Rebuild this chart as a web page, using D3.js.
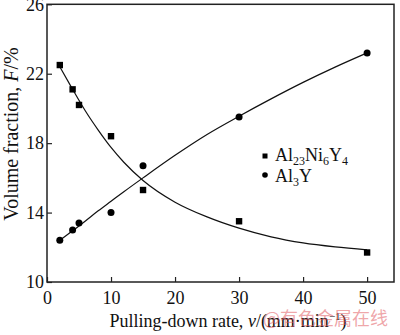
<!DOCTYPE html>
<html>
<head>
<meta charset="utf-8">
<script src="https://cdn.jsdelivr.net/npm/d3@7"></script>
<style>
  html, body { margin: 0; padding: 0; background: #fff; }
  svg { display: block; }
  text { font-family: "Liberation Serif", "Times New Roman", serif; fill: #111; }
</style>
</head>
<body>
<svg id="chart" width="400" height="335"></svg>
<script>
// Measured volume fractions vs pulling-down rate
const rates      = [2, 4, 5, 10, 15, 30, 50];
const al23Ni6Y4  = [22.5, 21.1, 20.2, 18.4, 15.3, 13.5, 11.7];
const al3Y       = [12.4, 13.0, 13.4, 14.0, 16.7, 19.5, 23.2];

// Fitted trend lines
const fitRates   = [2, 4, 6, 8, 10, 12, 15, 20, 25, 30, 35, 40, 45, 50];
const fitNi      = [22.4, 21.1, 19.85, 18.75, 17.75, 16.9, 15.85, 14.6, 13.75, 13.1, 12.6, 12.25, 12.02, 11.85];
const fitAl3Y    = [12.4, 12.95, 13.52, 14.1, 14.65, 15.2, 16.0, 17.3, 18.5, 19.55, 20.55, 21.5, 22.38, 23.2];

const xTicks = [0, 10, 20, 30, 40, 50];
const yTicks = [10, 14, 18, 22, 26];

const svg = d3.select("#chart");
const m = { left: 47, right: 394, top: 4.3, bottom: 282 };

const x = d3.scaleLinear().domain([0, 54.2]).range([m.left, m.right]);
const y = d3.scaleLinear().domain([10, 26]).range([m.bottom, m.top]);

// Axes with inward ticks
const gx = svg.append("g")
  .attr("transform", `translate(0,${m.bottom})`)
  .call(d3.axisBottom(x).tickValues(xTicks).tickSize(-5).tickPadding(9).tickFormat(d3.format("d")));
const gy = svg.append("g")
  .attr("transform", `translate(${m.left},0)`)
  .call(d3.axisLeft(y).tickValues(yTicks).tickSize(-5).tickPadding(3).tickFormat(d3.format("d")));

[gx, gy].forEach(g => {
  g.select(".domain").remove();
  g.selectAll(".tick line").attr("stroke", "#222").attr("stroke-width", 1.2);
  g.selectAll(".tick text").style("font-size", "18px").attr("fill", "#111")
    .style("font-family", '"Liberation Serif", "Times New Roman", serif');
});

// Plot frame
svg.append("rect")
  .attr("x", m.left).attr("y", m.top)
  .attr("width", m.right - m.left).attr("height", m.bottom - m.top)
  .attr("fill", "none").attr("stroke", "#222").attr("stroke-width", 1.5);

// Trend lines
const line = d3.line().x(d => x(d[0])).y(d => y(d[1])).curve(d3.curveMonotoneX);
[fitNi, fitAl3Y].forEach(vals => {
  svg.append("path")
    .datum(fitRates.map((r, i) => [r, vals[i]]))
    .attr("d", line)
    .attr("fill", "none").attr("stroke", "#111").attr("stroke-width", 1.2);
});

// Markers
const sq = 6.4;
svg.append("g").selectAll("rect")
  .data(rates.map((r, i) => [r, al23Ni6Y4[i]]))
  .join("rect")
  .attr("x", d => x(d[0]) - sq / 2).attr("y", d => y(d[1]) - sq / 2)
  .attr("width", sq).attr("height", sq).attr("fill", "#000");
svg.append("g").selectAll("circle")
  .data(rates.map((r, i) => [r, al3Y[i]]))
  .join("circle")
  .attr("cx", d => x(d[0])).attr("cy", d => y(d[1]))
  .attr("r", 3.5).attr("fill", "#000");

// Legend
const lg = svg.append("g");
lg.append("rect").attr("x", 262.5).attr("y", 153.5).attr("width", 5).attr("height", 5).attr("fill", "#000");
lg.append("circle").attr("cx", 265).attr("cy", 175).attr("r", 2.8).attr("fill", "#000");
const t1 = lg.append("text").attr("x", 275).attr("y", 161).style("font-size", "18px");
t1.append("tspan").text("Al");
t1.append("tspan").text("23").attr("dy", 4).style("font-size", "12px");
t1.append("tspan").text("Ni").attr("dy", -4);
t1.append("tspan").text("6").attr("dy", 4).style("font-size", "12px");
t1.append("tspan").text("Y").attr("dy", -4);
t1.append("tspan").text("4").attr("dy", 4).style("font-size", "12px");
const t2 = lg.append("text").attr("x", 275).attr("y", 182).style("font-size", "18px");
t2.append("tspan").text("Al");
t2.append("tspan").text("3").attr("dy", 4).style("font-size", "12px");
t2.append("tspan").text("Y").attr("dy", -4);

// Axis titles
const xt = svg.append("text").attr("x", 228).attr("y", 327)
  .attr("text-anchor", "middle").style("font-size", "18px");
xt.append("tspan").text("Pulling-down rate, ");
xt.append("tspan").text("v").style("font-style", "italic");
xt.append("tspan").text("/(mm·min");
xt.append("tspan").text("−1").attr("dy", -7).style("font-size", "11px");
xt.append("tspan").text(")").attr("dy", 7);

const yt = svg.append("text")
  .attr("transform", "translate(17.5,134) rotate(-90)")
  .attr("text-anchor", "middle").style("font-size", "20px");
yt.append("tspan").text("Volume fraction, ");
yt.append("tspan").text("F").style("font-style", "italic");
yt.append("tspan").text("/%");

// Source mark
svg.append("text").attr("x", 263).attr("y", 325)
  .style("font-family", '"Noto Sans CJK SC", sans-serif').style("font-size", "18px")
  .style("fill", "rgba(225,90,95,0.55)")
  .text("@有色金属在线");
</script>
</body>
</html>
